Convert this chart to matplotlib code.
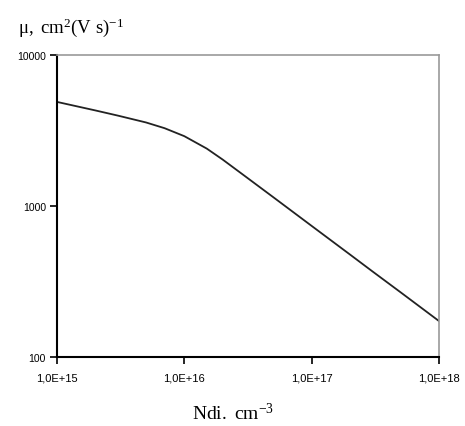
import matplotlib
matplotlib.use("Agg")
import matplotlib.pyplot as plt
from matplotlib.ticker import FixedLocator, NullLocator, FixedFormatter

# doping concentration (cm^-3) and electron mobility (cm^2/(V s))
concentration = [1e15, 2e15, 3e15, 5e15, 7e15, 1e16, 1.5e16, 2e16, 3e16,
                 5e16, 1e17, 2e17, 3e17, 5e17, 1e18]
mobility = [4890, 4295, 3970, 3575, 3275, 2900, 2400, 2030, 1575,
            1143, 738, 477, 369, 268, 173]

x_ticks = [1e15, 1e16, 1e17, 1e18]
x_tick_labels = ["1,0E+15", "1,0E+16", "1,0E+17", "1,0E+18"]
y_ticks = [100, 1000, 10000]
y_tick_labels = ["100", "1000", "10000"]

plt.rcParams['mathtext.fontset'] = 'custom'
plt.rcParams['mathtext.rm'] = 'Liberation Serif'
plt.rcParams['mathtext.it'] = 'Liberation Serif'

fig = plt.figure(figsize=(4.65, 4.27), dpi=100)
ax = fig.add_axes([57 / 465, 1 - 358 / 427, (439 - 57) / 465, (358 - 56) / 427])

ax.plot(concentration, mobility, color='#222222', linewidth=1.3)

ax.set_xscale('log')
ax.set_yscale('log')
ax.set_xlim(1e15, 1e18)
ax.set_ylim(100, 10000)

ax.xaxis.set_major_locator(FixedLocator(x_ticks))
ax.xaxis.set_major_formatter(FixedFormatter(x_tick_labels))
ax.xaxis.set_minor_locator(NullLocator())
ax.yaxis.set_major_locator(FixedLocator(y_ticks))
ax.yaxis.set_major_formatter(FixedFormatter(y_tick_labels))
ax.yaxis.set_minor_locator(NullLocator())

for lab in ax.get_xticklabels():
    lab.set_fontfamily('Liberation Sans')
    lab.set_fontsize(8)
for lab in ax.get_yticklabels():
    lab.set_fontfamily('Liberation Sans')
    lab.set_fontsize(7.5)
ax.tick_params(axis='x', length=5, width=1.2, pad=6)
ax.tick_params(axis='y', length=5, width=1.2, pad=3)

ax.spines['left'].set_linewidth(1.5)
ax.spines['bottom'].set_linewidth(1.5)
ax.spines['top'].set_color('#999999')
ax.spines['right'].set_color('#999999')
ax.spines['top'].set_linewidth(1.2)
ax.spines['right'].set_linewidth(1.2)

fig.text(18 / 465, 1 - 28 / 427, r'$\mathrm{\mu,\ cm^{2}(V\ s)^{-1}}$',
         fontsize=13.5, family='Liberation Serif', va='center', ha='left')
fig.text(233 / 465, 1 - 414 / 427, r'$\mathrm{Ndi.\ cm^{-3}}$',
         fontsize=14, family='Liberation Serif', va='center', ha='center')

fig.savefig('out.png', dpi=100)
